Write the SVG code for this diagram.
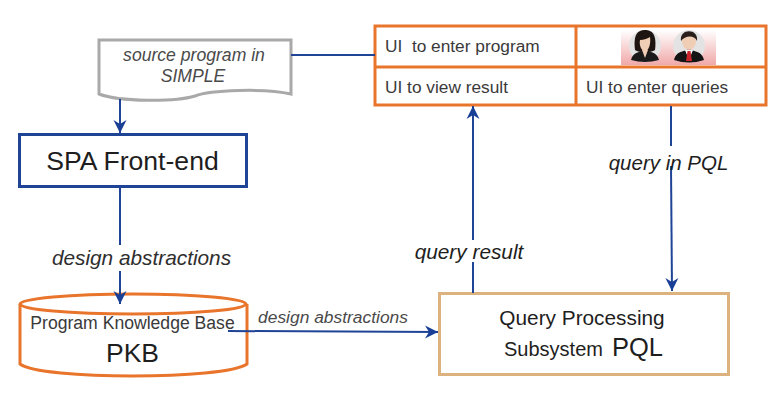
<svg xmlns="http://www.w3.org/2000/svg" width="778" height="419" viewBox="0 0 778 419">
<style>
text{font-family:"Liberation Sans",Arial,sans-serif}
.c{fill:none;stroke:#1f4496;stroke-width:2}
.ui{font-size:17.300px;fill:#3a3a3a}
.o{fill:none;stroke:#e9752d;stroke-width:3}
.i{font-style:italic}
</style>
<defs>
<marker id="a" markerUnits="userSpaceOnUse" markerWidth="16" markerHeight="16" refX="14" refY="8" orient="auto"><path d="M1 1.500L14 8L1 14.500L5 8Z" fill="#1a3f96"/></marker>
<linearGradient id="pink" x1="0" y1="0" x2="0" y2="1"><stop offset="0" stop-color="#fff"/><stop offset="1" stop-color="#f0a8a8"/></linearGradient>
</defs>
<rect width="778" height="419" fill="#fff"/>
<g id="source-program">
<path d="M99 40H291V94C265 88 210 90 195 96C175 102 120 102 99 94Z" fill="#fff" stroke="#a9a9a9" stroke-width="3"/>
<text class="i" x="194" y="61" font-size="17.600" fill="#4a4a4a" text-anchor="middle">source program in</text>
<text class="i" x="193" y="82" font-size="17.600" fill="#4a4a4a" text-anchor="middle">SIMPLE</text>
</g>
<g id="spa-front-end">
<rect x="19.500" y="134.500" width="227" height="52" fill="#fff" stroke="#1f4496" stroke-width="3"/>
<text x="132.500" y="170" font-size="26.600" fill="#1e1e1e" text-anchor="middle">SPA Front-end</text>
</g>
<g id="pkb">
<path d="M20 304V364C40 380 225 380 247 364V304" fill="#fff" stroke="#e9752d" stroke-width="3"/>
<ellipse cx="133" cy="304" rx="113" ry="10" fill="#fff" stroke="#e9752d" stroke-width="3"/>
<text x="132.500" y="329" font-size="17.600" fill="#3a3a3a" text-anchor="middle">Program Knowledge Base</text>
<text x="132.500" y="362" font-size="26.500" fill="#1e1e1e" text-anchor="middle">PKB</text>
</g>
<g id="query-processing">
<rect x="439.500" y="293.500" width="289" height="81" fill="#fff" stroke="#dcb27e" stroke-width="3"/>
<text x="582" y="325" font-size="20.800" fill="#1e1e1e" text-anchor="middle">Query Processing</text>
<text x="504" y="356" font-size="20" fill="#1e1e1e">Subsystem <tspan x="612" font-size="25.500">PQL</tspan></text>
</g>
<g id="ui-panel">
<rect x="375" y="26" width="391" height="79" fill="#fff" class="o"/>
<path class="o" d="M576 26V105M375 67H766"/>
<text class="ui" x="385" y="52" xml:space="preserve">UI  to enter program</text>
<text class="ui" x="385" y="93">UI to view result</text>
<text class="ui" x="586" y="93">UI to enter queries</text>
</g>
<g id="users">
<rect x="621" y="30" width="95" height="35" fill="url(#pink)"/>
<circle cx="645" cy="46" r="16" fill="#e3e3e3"/>
<circle cx="689" cy="46" r="16" fill="#e3e3e3"/>
<path d="M631 60C633 52 640 52 645 50C650 52 657 52 659 60Q645 64 631 60Z" fill="#1a1a1a"/>
<path d="M635 50C633 34 638 30 645 30C652 30 657 34 655 50C651 53 639 53 635 50Z" fill="#1e1412"/>
<path d="M640 40C644 40 648 38 650 37C651 44 649 50 645 52C641 50 639 45 640 40Z" fill="#f0cdb5"/>
<path d="M642 50L645 58L648 50Z" fill="#f0cdb5"/>
<path d="M674 60C676 51 683 52 689 49C695 52 702 51 704 60Q689 65 674 60Z" fill="#141414"/>
<path d="M685 50H693L689 60Z" fill="#fff"/>
<path d="M687.500 51H690.500L692 61H686Z" fill="#c8262c"/>
<ellipse cx="689" cy="41" rx="7" ry="9" fill="#f0cdb5"/>
<path d="M681 41C679 28 699 28 697 41C695 35 685 35 681 41Z" fill="#2a1e1a"/>
</g>
<g id="connectors">
<path class="c" d="M291 55H375"/>
<path class="c" marker-end="url(#a)" d="M120 99V133"/>
<path class="c" d="M120 187V245"/>
<path class="c" marker-end="url(#a)" d="M120 271V304"/>
<path class="c" marker-end="url(#a)" d="M228 331L438 332"/>
<path class="c" d="M473 293V262"/>
<path class="c" marker-end="url(#a)" d="M473 240V106"/>
<path class="c" d="M671 106V146"/>
<path class="c" marker-end="url(#a)" d="M671 166L672 291"/>
</g>
<g id="labels">
<text class="i" x="141.500" y="265" font-size="20.800" fill="#2e2e2e" text-anchor="middle">design abstractions</text>
<text class="i" x="333" y="323" font-size="17.400" fill="#4a4a4a" text-anchor="middle">design abstractions</text>
<text class="i" x="469" y="259" font-size="20.800" fill="#1e1e1e" text-anchor="middle">query result</text>
<text class="i" x="668.500" y="170" font-size="20.500" fill="#1e1e1e" text-anchor="middle">query in PQL</text>
</g>
</svg>
